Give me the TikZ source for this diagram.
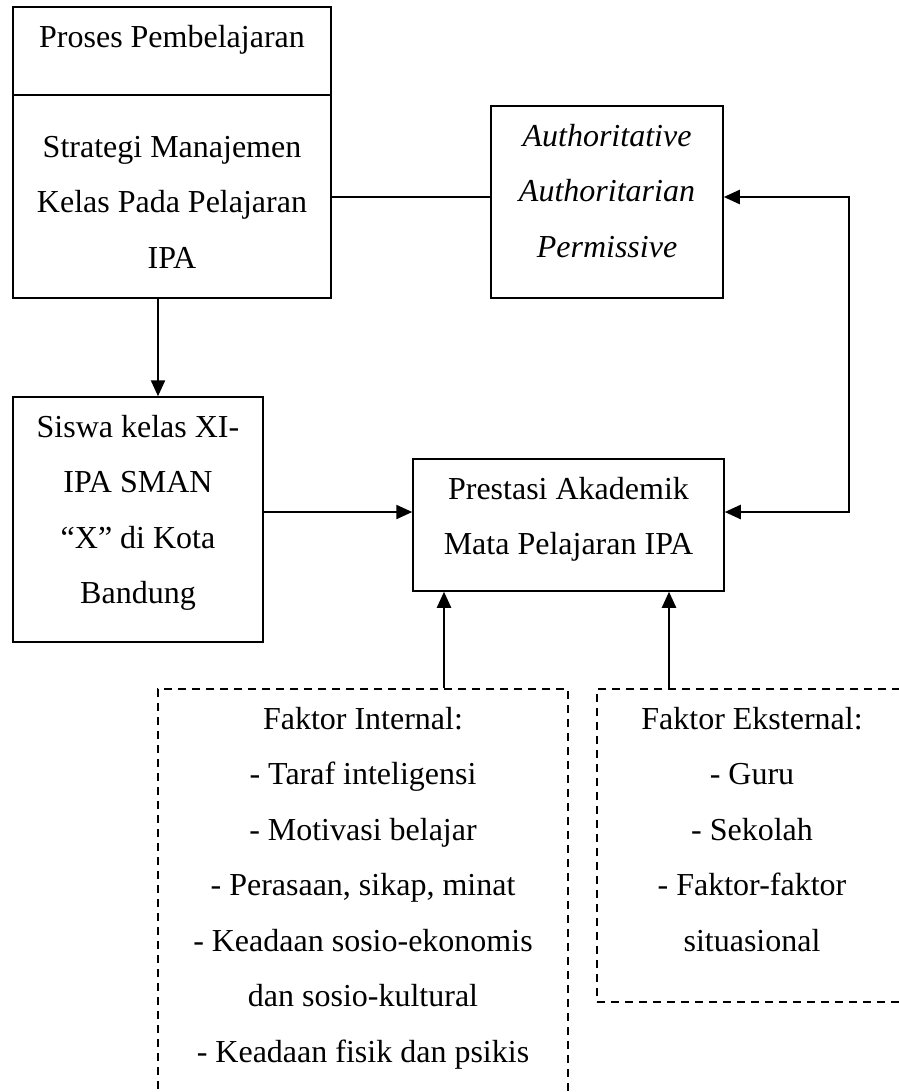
\documentclass[tikz,border=0pt]{standalone}
\usepackage{fontspec}
\setmainfont{Liberation Serif}
\usetikzlibrary{arrows.meta}
\tikzset{
  box/.style={draw, line width=1.5pt, inner sep=0pt},
  dbox/.style={draw, line width=1.4pt, inner sep=0pt, dash pattern=on 8pt off 6pt},
  txt/.style={font=\fontsize{32}{55.5}\selectfont, align=center, inner sep=0pt, anchor=base},
  tip/.style={},
  arr/.style={line width=2.3pt, -{Triangle[length=16pt,width=14pt]}},
  darr/.style={line width=2.3pt, {Triangle[length=16pt,width=14pt]}-{Triangle[length=16pt,width=14pt]}},
  plain/.style={line width=1.5pt}
}
\begin{document}
\begin{tikzpicture}[x=1pt,y=-1pt]
\clip (0,0) rectangle (899,1092);
\useasboundingbox (0,0) rectangle (899,1092);
% boxes
\node[box, minimum width=318, minimum height=291] (proc) at (172,152.5) {};
\node[box, minimum width=232, minimum height=192] (auth) at (607,202) {};
\node[box, minimum width=250, minimum height=245] (siswa) at (138,519.5) {};
\node[box, minimum width=311, minimum height=132] (pres) at (568.5,525) {};
\node[dbox, minimum width=410, minimum height=440] (intern) at (363,909) {};
\node[dbox, minimum width=310, minimum height=313] (extern) at (752,845.5) {};
% divider in first box
\coordinate (div) at (0,95);
\draw[plain] (proc.west |- div) -- (proc.east |- div);
% texts (anchor = baseline of the last line)
\node[txt] (t1) at (172,47) {Proses Pembelajaran};
\node[txt] (t2) at (172,268) {Strategi Manajemen\\Kelas Pada Pelajaran\\IPA};
\node[txt, font=\fontsize{32}{55.5}\selectfont\itshape] (t3) at (607,257) {Authoritative\\Authoritarian\\Permissive};
\node[txt] (t4) at (138,603.5) {Siswa kelas XI-\\IPA SMAN\\“X” di Kota\\Bandung};
\node[txt] (t5) at (568.5,554.5) {Prestasi Akademik\\Mata Pelajaran IPA};
\node[txt] (t6) at (363,1062) {Faktor Internal:\\- Taraf inteligensi\\- Motivasi belajar\\- Perasaan, sikap, minat\\- Keadaan sosio-ekonomis\\dan sosio-kultural\\- Keadaan fisik dan psikis};
\node[txt] (t7) at (752,951) {Faktor Eksternal:\\- Guru\\- Sekolah\\- Faktor-faktor\\situasional};
% helper coordinates
\coordinate (c197) at (0,197);
\coordinate (c512) at (0,512);
\coordinate (xdown) at (158,0);
\coordinate (xr) at (849,0);
\coordinate (xi) at (444,0);
\coordinate (xe) at (669,0);
% connectors
\draw[plain] (proc.east |- c197) -- (auth.west |- c197);
\draw[arr] (proc.south -| xdown) -- (siswa.north -| xdown);
\draw[arr] (siswa.east |- c512) -- (pres.west |- c512);
\draw[darr] (auth.east |- c197) -- (xr |- c197) -- (xr |- c512) -- (pres.east |- c512);
\draw[arr] (intern.north -| xi) -- (pres.south -| xi);
\draw[arr] (extern.north -| xe) -- (pres.south -| xe);
\end{tikzpicture}
\end{document}
